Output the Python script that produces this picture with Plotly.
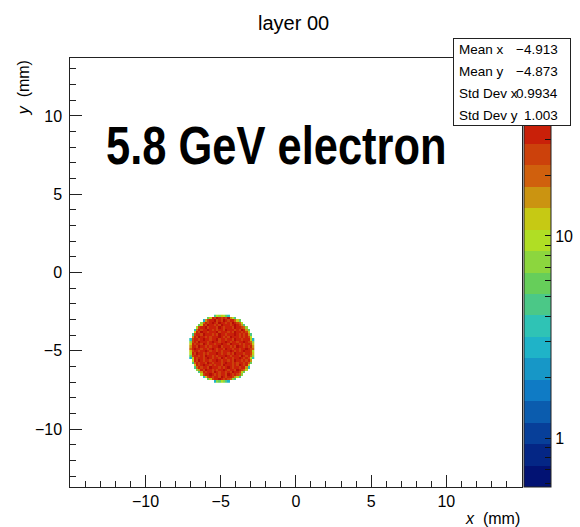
import plotly.graph_objects as go
import numpy as np

# ---------------- data ----------------
title_text = "layer 00"
label_text = "5.8 GeV electron"
stat_names = ["Mean x", "Mean y", "Std Dev x", "Std Dev y"]
stat_values = ["\u22124.913", "\u22124.873", "0.9934", "1.003"]
x_range = [-15, 15]
y_range = [-13.7, 13.7]
x_ticks = [-10, -5, 0, 5, 10]
y_ticks = [-10, -5, 0, 5, 10]
bin_width = 0.15
disk_center = [-4.913, -4.873]
z_log_min, z_log_max = -0.241, 1.88   # log10 of colour-axis limits
n_levels = 20
band_codes = "0123456789abcdefghij"    # band index 0..19 per character
# colour-band code of each bin in the disk, top row first ('.' = empty)
disk_rows = [
    "8bacb97",
    "9cgfhgfgfhdb8",
    "6dfgghfgfhgfggec9",
    "aegfghgfhggfgfhgfeb",
    "9cgfhggfgfhgggfghgfd8",
    "bfgghfgggfhgfgggfhggfea",
    "7egfgghgfgfggfhgggfgfhgd9",
    "cgfhggfggghfgggfgfhggfgfc",
    "8fggfhgggfgfhggfggghgfgfgd8",
    "dgfhggfgfggghgfgfhgggfgfgfb",
    "7fggfghggfgghfggfggfhggfgggc6",
    "afgfhgggfghggfgghgfggfgghgfea",
    "cgfggfhgfggfgghggfhgggfgfggfc",
    "dggfhggfgfggghfgggfgfhggfgfgd",
    "eghggfggfghgfggfhggfggfgghgfe",
    "cfggfgghgfggfgfggghgfgfghggfb",
    "bgfhggfgfggghgfggfgfhgggfggfc",
    "9fggfgfhggfgfggghgfgggfhgfgea",
    "6cgfggfghgfggfhgfggfgghgfgfb7",
    "bgfhgfggfgghgfggfgfhggfgfgd",
    "8egfggfhgfgggfghggfgfggfge9",
    "cgfghggfgfggfhgggfgfhgfgc",
    "8egfggfhgggfgfghgfggfggd7",
    "adgfhggfgfgghgfggfhgfeb",
    "8dgfggfhgfggfgfhggfc9",
    "bfgghgfgfggfhgfgfea",
    "7cfgfggfhgfggfdb8",
    "9cfgghgfgfea8",
    "6a9ba86",
]
cbar_tick_counts = [0.6, 0.7, 0.8, 0.9, 1, 2, 3, 4, 5, 6, 7, 8, 9, 10, 20, 30, 40, 50, 60, 70]
cbar_labels = {1: "1", 10: "10"}
# ROOT kRainBow palette stops
pal_pos = [0.0, 0.125, 0.25, 0.375, 0.5, 0.625, 0.75, 0.875, 1.0]
pal_r = [0, 5, 15, 35, 102, 196, 208, 199, 110]
pal_g = [0, 48, 124, 192, 206, 226, 97, 16, 0]
pal_b = [99, 142, 198, 201, 90, 22, 13, 8, 2]

# ---------------- build ----------------
W, H = 580, 527
def px(x):
    return x / W
def py(y):
    return 1 - y / H

ncol = max(len(r) for r in disk_rows)
grid = [r.center(ncol, ".") for r in disk_rows]
step = (z_log_max - z_log_min) / n_levels
z = []
for row in reversed(grid):
    z.append([None if c == "." else z_log_min + (band_codes.index(c) + 0.5) * step for c in row])
half = (ncol - 1) / 2

def band_color(i):
    idx = int((i + 0.99) * 255 / n_levels)
    p = min(idx / 254.0, 1.0)
    r = np.interp(p, pal_pos, pal_r)
    g = np.interp(p, pal_pos, pal_g)
    b = np.interp(p, pal_pos, pal_b)
    return f"rgb({int(round(r))},{int(round(g))},{int(round(b))})"

colorscale = []
for i in range(n_levels):
    c = band_color(i)
    colorscale.append([i / n_levels, c])
    colorscale.append([(i + 1) / n_levels, c])

tickvals = [float(np.log10(v)) for v in cbar_tick_counts]
ticktext = [cbar_labels.get(v, "") for v in cbar_tick_counts]

base_family = "Liberation Sans, Arial, sans-serif"

fig = go.Figure()
fig.add_trace(go.Heatmap(
    z=z,
    x0=disk_center[0] - half * bin_width, dx=bin_width,
    y0=disk_center[1] - half * bin_width, dy=bin_width,
    zmin=z_log_min, zmax=z_log_max,
    colorscale=colorscale,
    zsmooth=False,
    hoverongaps=False,
    colorbar=dict(
        x=px(529), xanchor="left", xpad=0,
        y=py(487), yanchor="bottom", ypad=0,
        len=429, lenmode="pixels",
        thickness=27, thicknessmode="pixels",
        outlinewidth=1, outlinecolor="#222",
        tickmode="array", tickvals=tickvals, ticktext=ticktext,
        ticks="inside", ticklen=6, tickcolor="#111", tickwidth=1,
        tickfont=dict(family=base_family, size=16, color="black"),
    ),
))

axis_font = dict(family=base_family, size=16, color="black")
fig.update_layout(
    width=W, height=H,
    margin=dict(l=0, r=0, t=0, b=0),
    paper_bgcolor="white", plot_bgcolor="white",
    showlegend=False,
    xaxis=dict(
        domain=[px(71), px(527)], range=x_range,
        tickmode="array", tickvals=x_ticks,
        ticks="inside", ticklen=12, tickcolor="#222", tickwidth=1,
        minor=dict(dtick=1, ticks="inside", ticklen=6, tickcolor="#222", tickwidth=1, showgrid=False),
        showgrid=False, zeroline=False,
        showline=True, linecolor="#222", linewidth=1, mirror=True,
        tickfont=axis_font, ticklabelstandoff=0,
    ),
    yaxis=dict(
        domain=[py(487), py(58)], range=y_range,
        tickmode="array", tickvals=y_ticks,
        ticks="inside", ticklen=12, tickcolor="#222", tickwidth=1,
        minor=dict(dtick=1, ticks="inside", ticklen=6, tickcolor="#222", tickwidth=1, showgrid=False),
        showgrid=False, zeroline=False,
        showline=True, linecolor="#222", linewidth=1, mirror=True,
        tickfont=axis_font, ticklabelstandoff=4,
    ),
)

annotations = [
    dict(text=title_text, x=px(297), y=py(23), xref="paper", yref="paper",
         xanchor="center", yanchor="middle", showarrow=False,
         font=dict(family=base_family, size=20, color="black")),
    dict(text="<b>" + label_text + "</b>", x=px(105), y=py(145), xref="paper", yref="paper",
         xanchor="left", yanchor="middle", showarrow=False,
         font=dict(family="Liberation Sans, Arial, sans-serif", size=53, color="black")),
    dict(text="<i>x</i>  (mm)", x=px(527), y=py(518), xref="paper", yref="paper",
         xanchor="right", yanchor="middle", showarrow=False, font=axis_font),
    dict(text="<i>y</i>  (mm)", x=px(24), y=py(58), xref="paper", yref="paper",
         xanchor="center", yanchor="top", textangle=-90, showarrow=False, font=axis_font),
]

# stats box (an annotation so that it sits above the colour bar)
box_l, box_r, box_t, box_b = 458, 576, 38, 126
annotations.append(dict(
    text=" ", x=px(box_l), y=py(box_t), xref="paper", yref="paper",
    xanchor="left", yanchor="top", showarrow=False,
    width=box_r - box_l - 2, height=box_b - box_t - 2, borderpad=0,
    bgcolor="white", bordercolor="#222", borderwidth=1,
))
row_h = (box_b - box_t) / len(stat_names)
stat_font = dict(family=base_family, size=13.5, color="black")
for k, (nm, val) in enumerate(zip(stat_names, stat_values)):
    yc = box_t + (k + 0.5) * row_h + 1
    annotations.append(dict(text=nm, x=px(box_l + 4), y=py(yc), xref="paper", yref="paper",
                            xanchor="left", yanchor="middle", showarrow=False, font=stat_font))
    annotations.append(dict(text=val, x=px(box_r - 10), y=py(yc), xref="paper", yref="paper",
                            xanchor="right", yanchor="middle", showarrow=False, font=stat_font))

fig.update_layout(annotations=annotations)

# condense the big label horizontally (the original uses a condensed bold face)
post_js = """
var gd = document.getElementById('{plot_id}');
gd.querySelectorAll('text.annotation-text').forEach(function(n){
  if (n.textContent.indexOf('GeV') >= 0) {
    n.style.transformBox = 'fill-box';
    n.style.transformOrigin = '0% 50%';
    n.style.transform = 'scaleX(0.82)';
  }
});
"""
fig.write_html("out.html", post_script=post_js)
